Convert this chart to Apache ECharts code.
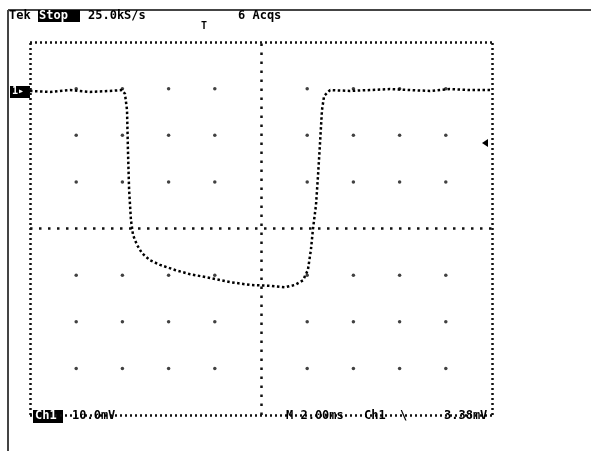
<!DOCTYPE html>
<html>
<head>
<meta charset="utf-8">
<script src="https://cdn.jsdelivr.net/npm/echarts@6/dist/echarts.min.js"></script>
<style>
html, body { margin: 0; padding: 0; background: #fff; }
#chart { width: 591px; height: 451px; }
</style>
</head>
<body>
<div id="chart"></div>
<script>
// scope trace, time in ms (2 ms/div), Ch1 in mV on screen (10 mV/div)
const timeMs = [-10.0, -9.13, -8.27, -7.40, -6.54, -6.02, -5.89, -5.80, -5.76, -5.71, -5.63, -5.54,
  -5.37, -5.15, -4.81, -4.37, -3.72, -3.07, -2.21, -1.34, -0.48, 0.39, 1.04, 1.47, 1.82, 2.03,
  2.16, 2.25, 2.38, 2.47, 2.55, 2.64, 2.73, 2.99, 3.85, 4.72, 5.58, 6.45, 7.32, 8.18, 9.05, 10.0]
const ch1mV = [29.5, 29.3, 29.7, 29.3, 29.5, 29.7, 28.9, 25.4, 16.8, 8.3, 1.8, -1.4,
  -3.5, -5.3, -6.8, -7.8, -8.9, -9.8, -10.6, -11.5, -12.1, -12.3, -12.6, -12.1, -11.1, -8.9,
  -4.6, -0.1, 5.0, 11.5, 17.9, 25.4, 28.4, 29.7, 29.5, 29.7, 29.9, 29.7, 29.5, 29.9, 29.7, 29.7]

const xTicks = [-10, -8, -6, -4, -2, 0, 2, 4, 6, 8, 10]
const yTicks = [-40, -30, -20, -10, 0, 10, 20, 30, 40]

const chart = echarts.init(document.getElementById('chart'))

// graticule dots at the inner division crossings
const gridDots = []
xTicks.slice(1, -1).forEach(x => {
  yTicks.slice(1, -1).forEach(y => {
    if (x !== 0 && y !== 0) gridDots.push([x, y])
  })
})

const font = 'DejaVu Sans Mono'
const txt = (x, y, s, color, size) => ({
  type: 'text', left: x, top: y,
  style: { text: s, fill: color || '#000', font: 'bold ' + (size || 12) + 'px "' + font + '"' },
  z: 10
})

const option = {
  animation: false,
  backgroundColor: '#fff',
  grid: { left: 30, right: 99, top: 42, bottom: 36 },
  xAxis: {
    type: 'value', min: -10, max: 10, interval: 2,
    axisLine: { show: false }, axisTick: { show: false }, axisLabel: { show: false },
    splitLine: { show: false }
  },
  yAxis: {
    type: 'value', min: -40, max: 40, interval: 10,
    axisLine: { show: false }, axisTick: { show: false }, axisLabel: { show: false },
    splitLine: { show: false }
  },
  series: [
    {
      type: 'scatter',
      data: gridDots,
      symbol: 'circle',
      symbolSize: 3.5,
      itemStyle: { color: '#111' },
      silent: true,
      markLine: {
        silent: true,
        symbol: 'none',
        label: { show: false },
        lineStyle: { color: '#111', width: 2.5, type: [2, 3] },
        data: [
          { xAxis: xTicks[0] }, { xAxis: xTicks[xTicks.length - 1] },
          { yAxis: yTicks[0] }, { yAxis: yTicks[yTicks.length - 1] },
          { xAxis: 0, lineStyle: { type: [2.5, 6.5] } },
          { yAxis: 0, lineStyle: { type: [2.5, 6.5] } }
        ]
      }
    },
    {
      type: 'line',
      data: timeMs.map((t, i) => [t, ch1mV[i]]),
      showSymbol: false,
      lineStyle: { color: '#000', width: 2.5, type: [2.5, 2.5] },
      z: 5
    }
  ],
  graphic: [
    { type: 'line', shape: { x1: 8, y1: 10, x2: 591, y2: 10 }, style: { stroke: '#444', lineWidth: 2 } },
    { type: 'line', shape: { x1: 8, y1: 10, x2: 8, y2: 451 }, style: { stroke: '#444', lineWidth: 2 } },
    txt(9, 10, 'Tek'),
    { type: 'rect', shape: { x: 38, y: 10, width: 42, height: 12 }, style: { fill: '#000' } },
    txt(39, 10, 'Stop', '#fff'),
    txt(88, 10, '25.0kS/s'),
    txt(238, 10, '6 Acqs'),
    txt(201, 21, 'T', '#000', 10),
    { type: 'rect', shape: { x: 10, y: 86, width: 20, height: 12 }, style: { fill: '#000' } },
    txt(12, 86, '1\u25B8', '#fff', 10),
    { type: 'polygon', shape: { points: [[482, 143], [488, 139], [488, 147]] }, style: { fill: '#000' } },
    { type: 'rect', shape: { x: 33, y: 410, width: 30, height: 13 }, style: { fill: '#000' } },
    txt(35, 410, 'Ch1', '#fff'),
    txt(72, 410, '10.0mV'),
    txt(286, 410, 'M 2.00ms'),
    txt(364, 410, 'Ch1'),
    txt(400, 410, '\\'),
    txt(444, 410, '3.38mV')
  ]
}

chart.setOption(option)
</script>
</body>
</html>
